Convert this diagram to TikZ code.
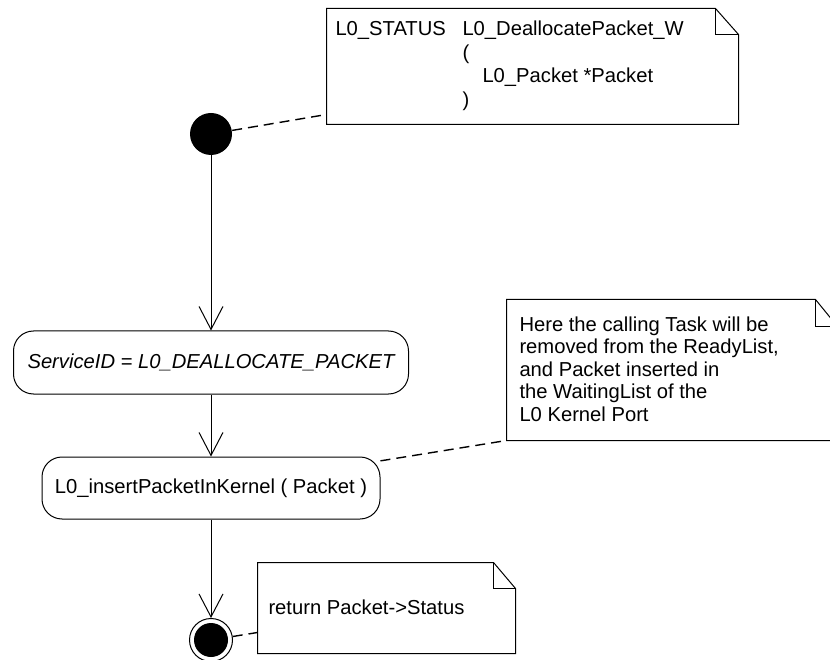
\documentclass[tikz,border=0pt]{standalone}
\usepackage{fontspec}
\setmainfont{Liberation Sans}
\usetikzlibrary{arrows.meta,calc}
\begin{document}
\begin{tikzpicture}[x=1pt,y=-1pt, line width=1pt,
  every node/.style={font=\fontsize{20.2}{23}\selectfont, inner sep=0pt},
  actbox/.style={draw, rounded corners=20pt, minimum height=62pt},
  flow/.style={-{Straight Barb[length=23pt,width=24pt]}},
  notelink/.style={dash pattern=on 10pt off 6pt, line width=1.4pt},
  txt/.style={anchor=base west},
  pseudo/.style={draw=none}]
\useasboundingbox (0,0) rectangle (830,660);
\clip (0,0) rectangle (830,660);

% initial / final states
\node[circle, fill=black, minimum size=42pt] (init) at (211,134) {};
\node[circle, draw, minimum size=43pt] (fin) at (211,640) {};
\fill (fin.center) circle (17pt);

% activity boxes
\node[actbox, minimum width=395pt, minimum height=63pt] (b1) at (211,362.5) {\itshape ServiceID = L0\_DEALLOCATE\_PACKET};
\node[actbox, minimum width=338pt] (b2) at (211,488) {L0\_insertPacketInKernel ( Packet )};

% flows
\draw[flow] (init) -- (b1);
\draw[flow] (b1) -- (b2);
\draw[flow] (b2) -- (fin);

% note 1
\node[pseudo, minimum width=411pt, minimum height=115pt] (n1) at (532.5,66.5) {};
\draw[fill=white] (n1.north west) -- ($(n1.north east)+(-23,0)$) -- ($(n1.north east)+(0,26)$) -- (n1.south east) -- (n1.south west) -- cycle;
\draw ($(n1.north east)+(-23,0)$) |- ($(n1.north east)+(0,26)$);
\node[txt] (n1a) at (335,36) {L0\_STATUS};
\node[txt] (n1b) at (462,36) {L0\_DeallocatePacket\_W};
\node[txt] (n1c) at (462,59.5) {(};
\node[txt] (n1d) at (482,83) {L0\_Packet *Packet};
\node[txt] (n1e) at (462,106.5) {)};

% note 2
\node[pseudo, minimum width=330pt, minimum height=140pt] (n2) at (672,370) {};
\draw[fill=white] (n2.north west) -- ($(n2.north east)+(-22,0)$) -- ($(n2.north east)+(0,27)$) -- (n2.south east) -- (n2.south west) -- cycle;
\draw ($(n2.north east)+(-22,0)$) |- ($(n2.north east)+(0,27)$);
\node[txt] (n2a) at (519,331) {Here the calling Task will be};
\node[txt] (n2b) at (519,353.5) {removed from the ReadyList,};
\node[txt] (n2c) at (519,376) {and Packet inserted in};
\node[txt] (n2d) at (519,398.5) {the WaitingList of the};
\node[txt] (n2e) at (519,421) {L0 Kernel Port};

% note 3
\node[pseudo, minimum width=257pt, minimum height=90pt] (n3) at (386.5,608) {};
\draw[fill=white] (n3.north west) -- ($(n3.north east)+(-22,0)$) -- ($(n3.north east)+(0,26)$) -- (n3.south east) -- (n3.south west) -- cycle;
\draw ($(n3.north east)+(-22,0)$) |- ($(n3.north east)+(0,26)$);
\node[txt] (n3a) at (268,614) {return Packet->Status};

% note links
\coordinate (l1) at ($(n1.south west)+(0,-10)$);
\coordinate (l3) at ($(n3.south west)+(0,-21)$);
\draw[notelink] (init) -- (l1);
\draw[notelink] (b2) -- (n2.south west);
\draw[notelink] (fin) -- (l3);
\end{tikzpicture}
\end{document}
